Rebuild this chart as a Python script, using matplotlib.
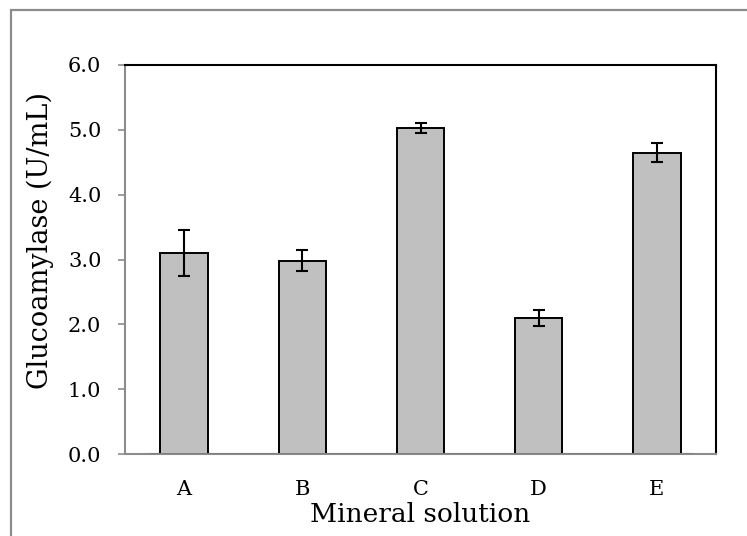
import numpy as np
from matplotlib import pyplot as plt
from matplotlib.patches import Rectangle

categories = ['A', 'B', 'C', 'D', 'E']
activity = [3.10, 2.98, 5.03, 2.10, 4.65]
errors = [0.35, 0.16, 0.08, 0.12, 0.15]
yticks = [0.0, 1.0, 2.0, 3.0, 4.0, 5.0, 6.0]

plt.rcParams['font.family'] = ['DejaVu Serif']

fig = plt.figure(figsize=(7.47, 5.36), dpi=100)
ax = fig.add_axes([125/747, 1 - 454/536, (716 - 125)/747, (454 - 65)/536])

# grey frame around the chart area
fig.patches.append(Rectangle((11/747, -0.1), 1.2, 1 - 10/536 + 0.1, transform=fig.transFigure,
                             fill=False, edgecolor='#8c8c8c', linewidth=1.6))

x = np.arange(len(categories))
ax.bar(x, activity, width=0.4, color='#c0c0c0', edgecolor='black', linewidth=1.4, zorder=3)
ax.errorbar(x, activity, yerr=errors, fmt='none', ecolor='black', elinewidth=1.5,
            capsize=4, capthick=1.5, zorder=4)

ax.set_xlim(-0.5, 4.5)
ax.set_ylim(0, 6)
ax.set_yticks(yticks)
ax.set_yticklabels(['%.1f' % v for v in yticks])
ax.set_xticks(x)
ax.set_xticklabels(categories)

for side in ['top', 'right']:
    ax.spines[side].set_color('black')
    ax.spines[side].set_linewidth(1.5)
ax.spines['left'].set_color('#8c8c8c')
ax.spines['left'].set_linewidth(1.5)
ax.spines['bottom'].set_color('#8c8c8c')
ax.spines['bottom'].set_linewidth(1.5)

# category axis line, a bit heavier and shorter than the plot frame
ax.axhline(0, xmin=25/591, xmax=566/591, color='#7f7f7f', linewidth=2.2, zorder=5)

ax.tick_params(axis='y', direction='out', length=5, width=1.2, color='#8c8c8c',
               labelsize=15, pad=12)
ax.tick_params(axis='x', length=0, labelsize=15, pad=19)

ax.set_ylabel('Glucoamylase (U/mL)', fontsize=19.5, labelpad=10, y=0.55)
ax.set_xlabel('Mineral solution', fontsize=19, labelpad=2)

fig.savefig('out.png', dpi=100)
